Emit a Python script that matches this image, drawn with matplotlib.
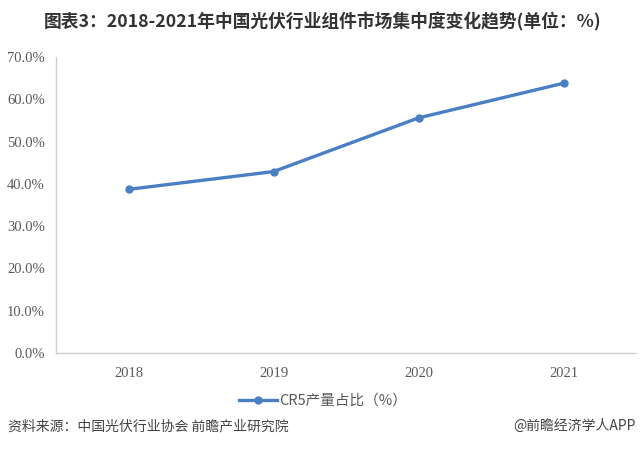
import matplotlib.pyplot as plt
from matplotlib.ticker import FuncFormatter

plt.rcParams['font.family'] = ['Noto Sans CJK SC', 'DejaVu Sans']

# data
years = ["2018", "2019", "2020", "2021"]
cr5_share = [38.7, 42.9, 55.6, 63.8]
y_ticks = [0, 10, 20, 30, 40, 50, 60, 70]

title = "图表3：2018-2021年中国光伏行业组件市场集中度变化趋势(单位：%)"
series_name = "CR5产量占比（%）"
source = "资料来源：中国光伏行业协会 前瞻产业研究院"
brand = "@前瞻经济学人APP"

line_color = "#4a7fc4"
axis_color = "#d0d0d0"
tick_color = "#595959"

fig = plt.figure(figsize=(6.4, 4.49), dpi=100)
ax = fig.add_axes([56 / 640, 1 - 353 / 449, 580 / 640, 296 / 449])

x = list(range(len(years)))
line, = ax.plot(x, cr5_share, color=line_color, linewidth=2.4,
                marker="o", markersize=5, label=series_name)

ax.set_xlim(-0.5, len(years) - 0.5)
ax.set_ylim(0, 70)
ax.set_xticks(x)
ax.set_xticklabels(years)
ax.set_yticks(y_ticks)
ax.yaxis.set_major_formatter(FuncFormatter(lambda v, p: f"{v:.1f}%"))

for lab in ax.get_xticklabels() + ax.get_yticklabels():
    lab.set_family("Liberation Serif")
    lab.set_fontsize(10.5)
    lab.set_color(tick_color)

ax.tick_params(length=0, pad=8)
ax.tick_params(axis="x", pad=10)
for side in ["top", "right"]:
    ax.spines[side].set_visible(False)
for side in ["left", "bottom"]:
    ax.spines[side].set_color(axis_color)
    ax.spines[side].set_linewidth(1)

fig.text(323 / 640, 1 - 22 / 449, title, ha="center", va="center",
         fontsize=12.8, fontweight="bold", color="#333333")

leg = fig.legend(handles=[line], loc="center", bbox_to_anchor=(323 / 640, 1 - 401 / 449),
                 frameon=False, fontsize=10.5, handlelength=2.6, handletextpad=0.2)
for t in leg.get_texts():
    t.set_color(tick_color)

fig.text(8 / 640, 1 - 426 / 449, source, ha="left", va="center",
         fontsize=10, color="#444444")
fig.text(636 / 640, 1 - 426 / 449, brand, ha="right", va="center",
         fontsize=10, color="#444444")

fig.savefig("out.png", dpi=100, facecolor="white")
